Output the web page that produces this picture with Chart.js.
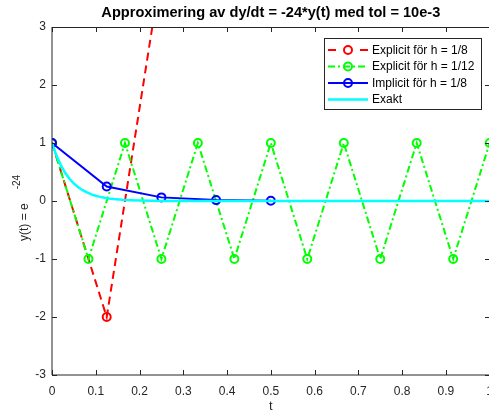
<!DOCTYPE html>
<html><head><meta charset="utf-8">
<script src="https://cdn.jsdelivr.net/npm/chart.js@4.4.0/dist/chart.umd.min.js"></script>
<style>html,body{margin:0;padding:0;background:#fff;overflow:hidden}#wrap{width:489px;height:414px;overflow:hidden;position:relative}canvas{display:block}</style>
</head><body><div id="wrap"><canvas id="c" width="502" height="414" style="width:502px;height:414px"></canvas></div>
<script>
const titleText = 'Approximering av dy/dt = -24*y(t) med tol = 10e-3';
const xLabel = 't';
const yLabelMain = 'y(t) = e';
const yLabelSup = '-24';
const xTicks = [0, 0.1, 0.2, 0.3, 0.4, 0.5, 0.6, 0.7, 0.8, 0.9, 1];
const yTicks = [-3, -2, -1, 0, 1, 2, 3];
const seriesLabels = ['Explicit för h = 1/8', 'Explicit för h = 1/12', 'Implicit för h = 1/8', 'Exakt'];
const explicit8T = [0, 0.125, 0.25];
const explicit8Y = [1, -2, 4];
const explicit12T = [0, 0.0833, 0.1667, 0.25, 0.3333, 0.4167, 0.5, 0.5833, 0.6667, 0.75, 0.8333, 0.9167, 1];
const explicit12Y = [1, -1, 1, -1, 1, -1, 1, -1, 1, -1, 1, -1, 1];
const implicit8T = [0, 0.125, 0.25, 0.375, 0.5];
const implicit8Y = [1, 0.25, 0.0625, 0.0156, 0.0039];
const exactT = [0, 0.01, 0.02, 0.03, 0.04, 0.05, 0.06, 0.07, 0.08, 0.09, 0.10, 0.11, 0.12, 0.13, 0.14, 0.16, 0.18, 0.20, 0.23, 0.26, 0.30, 0.35, 0.40, 0.50, 0.60, 0.70, 0.80, 0.90, 1.0];
const exactY = [1, 0.787, 0.619, 0.487, 0.383, 0.301, 0.237, 0.186, 0.147, 0.115, 0.091, 0.071, 0.056, 0.044, 0.035, 0.021, 0.013, 0.008, 0.004, 0.002, 0.001, 0.0002, 0.0001, 0, 0, 0, 0, 0, 0];

const pts = (t, y) => t.map((v, i) => ({x: v, y: y[i]}));
const AX = '#262626';
const FONT = '"Liberation Sans", Arial, Helvetica, sans-serif';

const sets = [
  {label: seriesLabels[0], data: pts(explicit8T, explicit8Y), borderColor: '#ff0000', borderDash: [8, 5], legendDash: [8, 24], order: 4},
  {label: seriesLabels[1], data: pts(explicit12T, explicit12Y), borderColor: '#00ff00', borderDash: [7, 3, 2, 3], order: 3},
  {label: seriesLabels[2], data: pts(implicit8T, implicit8Y), borderColor: '#0000ff', borderDash: [], order: 2},
  {label: seriesLabels[3], data: pts(exactT, exactY), borderColor: '#00ffff', borderDash: [], order: 1, pointRadius: 0, borderWidth: 2.5}
].map(d => Object.assign({
  borderWidth: 2, pointRadius: 4, pointBorderWidth: 2, pointBackgroundColor: 'rgba(0,0,0,0)',
  pointBorderColor: d.borderColor, pointHoverRadius: 4, fill: false, tension: 0
}, d));

const framePlugin = {
  id: 'frame',
  afterDraw(chart) {
    const {ctx, chartArea: a, scales: {x, y}} = chart;
    const L = Math.round(a.left), R = Math.round(a.right), T = Math.round(a.top), B = Math.round(a.bottom);
    ctx.save();
    ctx.setLineDash([]);
    ctx.strokeStyle = AX; ctx.lineWidth = 1;
    ctx.beginPath();
    ctx.moveTo(L, T); ctx.lineTo(L, B); ctx.lineTo(R, B);
    ctx.stroke();
    ctx.beginPath();
    ctx.moveTo(L, T + 0.5); ctx.lineTo(R + 0.5, T + 0.5); ctx.lineTo(R + 0.5, B);
    xTicks.forEach(v => {
      const px = Math.round(x.getPixelForValue(v)) + 0.5;
      ctx.moveTo(px, B); ctx.lineTo(px, B - 5);
      ctx.moveTo(px, T); ctx.lineTo(px, T + 5);
    });
    yTicks.forEach(v => {
      const py = Math.round(y.getPixelForValue(v)) + 0.5;
      ctx.moveTo(L, py); ctx.lineTo(L + 5, py);
      ctx.moveTo(R, py); ctx.lineTo(R - 5, py);
    });
    ctx.stroke();

    // title
    ctx.fillStyle = '#000';
    ctx.font = 'bold 14.6px ' + FONT;
    ctx.textAlign = 'center'; ctx.textBaseline = 'middle';
    ctx.fillText(titleText, (a.left + a.right) / 2, 13);

    // y label
    ctx.fillStyle = AX;
    ctx.translate(28, 241);
    ctx.rotate(-Math.PI / 2);
    ctx.font = '12px ' + FONT;
    ctx.textBaseline = 'alphabetic';
    ctx.textAlign = 'left';
    ctx.fillText(yLabelMain, 0, 0);
    const w = ctx.measureText(yLabelMain).width;
    ctx.font = '10px ' + FONT;
    ctx.fillText(yLabelSup, w + 14, -8);
    ctx.setTransform(1, 0, 0, 1, 0, 0);

    // legend
    const lx = 324, ly = 38, lw = 157, lh = 71;
    ctx.fillStyle = '#fff';
    ctx.fillRect(lx, ly, lw, lh);
    ctx.strokeStyle = AX; ctx.lineWidth = 1;
    ctx.strokeRect(lx + 0.5, ly + 0.5, lw, lh);
    const rows = [50, 66.5, 83, 99.5];
    chart.data.datasets.forEach((d, i) => {
      const ry = rows[i];
      ctx.strokeStyle = d.borderColor; ctx.lineWidth = d.borderWidth;
      ctx.setLineDash(d.legendDash || d.borderDash);
      ctx.beginPath(); ctx.moveTo(328, ry); ctx.lineTo(368, ry); ctx.stroke();
      ctx.setLineDash([]);
      if (d.pointRadius) {
        ctx.lineWidth = 2;
        ctx.beginPath(); ctx.arc(348, ry, 4, 0, Math.PI * 2); ctx.stroke();
      }
      ctx.fillStyle = '#000';
      ctx.font = '12px ' + FONT;
      ctx.textAlign = 'left';
      ctx.textBaseline = 'middle';
      ctx.fillText(d.label, 372, ry + 0.5);
    });
    ctx.restore();
  }
};

new Chart(document.getElementById('c'), {
  type: 'line',
  data: {datasets: sets},
  options: {
    responsive: false, animation: false, devicePixelRatio: 1,
    layout: {padding: {left: 0, right: 6.5, top: 27, bottom: 0}},
    plugins: {
      legend: {display: false}, tooltip: {enabled: false}, title: {display: false}
    },
    scales: {
      x: {
        type: 'linear', min: 0, max: 1,
        afterBuildTicks: s => { s.ticks = xTicks.map(v => ({value: v})); },
        afterFit: s => { s.height = 39; },
        grid: {display: false, drawTicks: false}, border: {display: false},
        ticks: {color: AX, font: {family: FONT, size: 12}, padding: 9, maxRotation: 0, autoSkip: false, callback: v => String(v)},
        title: {display: true, text: xLabel, color: AX, font: {family: FONT, size: 13}, padding: {top: 0, bottom: 0}}
      },
      y: {
        type: 'linear', min: -3, max: 3,
        afterBuildTicks: s => { s.ticks = yTicks.map(v => ({value: v})); },
        afterFit: s => { s.width = 52; },
        grid: {display: false, drawTicks: false}, border: {display: false},
        ticks: {color: AX, font: {family: FONT, size: 12}, padding: 6, callback: v => String(v)}
      }
    }
  },
  plugins: [framePlugin]
});
</script></body></html>
